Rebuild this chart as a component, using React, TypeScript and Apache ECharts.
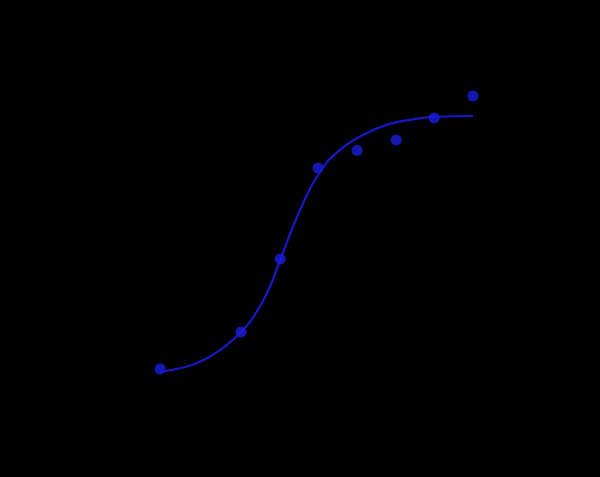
import { useEffect, useRef } from 'react';
import * as echarts from 'echarts';

// log dose (arbitrary units) and response (%) of the measured points
const doses = [0, 2.07, 3.07, 4.04, 5.04, 6.04, 7.01, 8];
const responses = [1.2, 15.7, 44.3, 80, 87, 91, 99.6, 108.2];

// fitted curve
const fitX = [0, 0.51, 1.02, 1.53, 2.04, 2.47, 2.81, 3.07, 3.58, 4.09, 4.6, 5.11, 5.79, 6.47, 7.03, 8.0];
const fitY = [0.1, 1.45, 4.0, 8.6, 15.2, 23.6, 33.5, 43.9, 63.5, 78.5, 87.1, 92.3, 96.9, 99.1, 100.1, 100.4];

const BLUE = '#1c1cdc';

export default function App() {
  const ref = useRef<HTMLDivElement | null>(null);

  useEffect(() => {
    if (!ref.current) return;
    const chart = echarts.init(ref.current, undefined, { renderer: 'svg' });

    chart.setOption({
      animation: false,
      backgroundColor: '#000000',
      grid: { left: 121, right: 88, top: 66, bottom: 54, containLabel: false },
      xAxis: {
        type: 'value',
        min: -1,
        max: 9,
        axisLine: { lineStyle: { color: '#000000' } },
        axisTick: { show: false },
        axisLabel: { show: false },
        splitLine: { show: false },
      },
      yAxis: {
        type: 'value',
        min: -20,
        max: 120,
        axisLine: { show: true, lineStyle: { color: '#000000' } },
        axisTick: { show: false },
        axisLabel: { show: false },
        splitLine: { show: false },
      },
      series: [
        {
          type: 'line',
          data: fitX.map((x, i) => [x, fitY[i]]),
          smooth: 0.5,
          showSymbol: false,
          lineStyle: { color: '#1818c8', width: 2.2 },
          z: 2,
        },
        {
          type: 'scatter',
          data: doses.map((x, i) => [x, responses[i]]),
          symbol: 'circle',
          symbolSize: 11,
          itemStyle: { color: BLUE },
          z: 3,
        },
      ],
    });

    return () => chart.dispose();
  }, []);

  return (
    <div
      ref={ref}
      style={{ position: 'fixed', left: 0, top: 0, width: 600, height: 477, background: '#000' }}
    />
  );
}
